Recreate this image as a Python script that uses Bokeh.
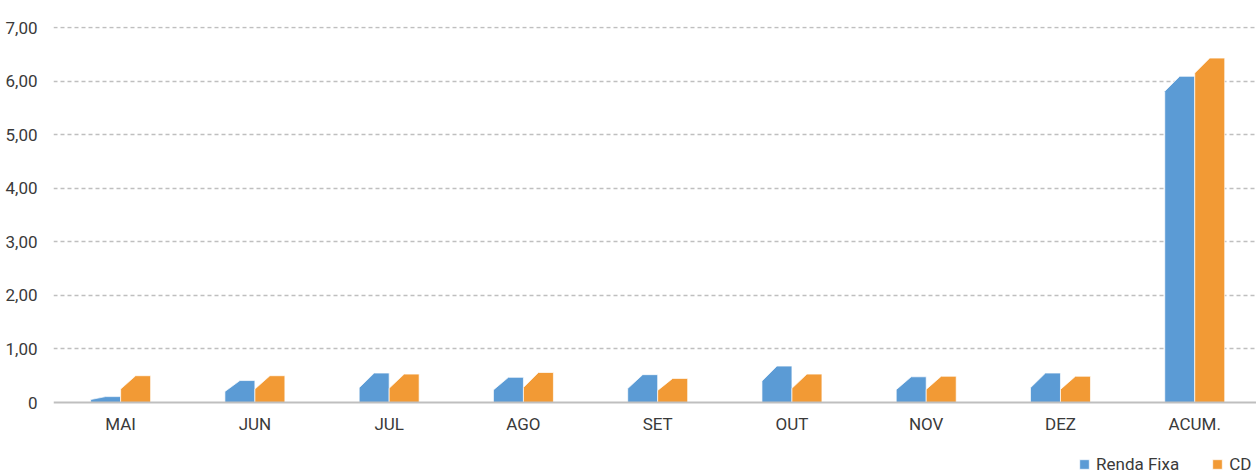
from bokeh.plotting import figure
from bokeh.models import Range1d, FixedTicker, Span, Legend, LegendItem, ColumnDataSource
from bokeh.embed import file_html
from bokeh.resources import INLINE

categories = ["MAI", "JUN", "JUL", "AGO", "SET", "OUT", "NOV", "DEZ", "ACUM."]
renda_fixa = [0.11, 0.41, 0.55, 0.47, 0.52, 0.68, 0.48, 0.55, 6.09]
cdi = [0.50, 0.50, 0.53, 0.56, 0.45, 0.53, 0.49, 0.49, 6.43]
y_ticks = [0, 1, 2, 3, 4, 5, 6, 7]
y_labels = ["0", "1,00", "2,00", "3,00", "4,00", "5,00", "6,00", "7,00"]

BLUE = "#5B9BD5"
ORANGE = "#F29A35"
FONT = "Roboto"
TXT = "#3a3a3a"

# frame spans page y 26..476; value 0 sits at y=402 (53.57 px per unit)
p = figure(width=1256, height=476, output_backend="svg", toolbar_location=None,
           x_range=Range1d(0, 8.96), y_range=Range1d(-1.3814, 7.02),
           min_border_left=53, min_border_right=0, min_border_top=26, min_border_bottom=0)
p.outline_line_color = None
p.background_fill_color = "white"

w = 0.2234
bev_h = 0.28


def shapes(vals, side):
    xs, ys = [], []
    for i, v in enumerate(vals):
        c = i + 0.5
        x0 = c - w if side < 0 else c
        x1 = x0 + w
        d = min(bev_h, v * 0.5)
        xs.append([x0, x0, x0 + w / 2, x1, x1])
        ys.append([0, v - d, v, v, 0])
    return ColumnDataSource(dict(xs=xs, ys=ys))


r1 = p.patches("xs", "ys", source=shapes(renda_fixa, -1), fill_color=BLUE,
               line_color="white", line_width=1, line_alpha=0.7)
r2 = p.patches("xs", "ys", source=shapes(cdi, 1), fill_color=ORANGE,
               line_color="white", line_width=1, line_alpha=0.7)

# grid
p.xgrid.grid_line_color = None
p.ygrid.ticker = FixedTicker(ticks=y_ticks[1:])
p.ygrid.grid_line_color = "#bfbfbf"
p.ygrid.grid_line_dash = "4 3"
p.ygrid.grid_line_width = 1.3
p.add_layout(Span(location=0, dimension="width", line_color="#bfbfbf", line_width=2))

# y axis
p.yaxis.ticker = FixedTicker(ticks=y_ticks)
p.yaxis.major_label_overrides = {t: l for t, l in zip(y_ticks, y_labels)}
p.yaxis.axis_line_color = None
p.yaxis.major_tick_line_color = None
p.yaxis.minor_tick_line_color = None
p.yaxis.major_label_standoff = 10
p.yaxis.major_label_text_font = FONT
p.yaxis.major_label_text_font_size = "17px"
p.yaxis.major_label_text_color = TXT

# x axis, pinned at value 0
x_ticks = [i + 0.5 for i in range(len(categories))]
p.xaxis.fixed_location = 0
p.xaxis.ticker = FixedTicker(ticks=x_ticks)
p.xaxis.major_label_overrides = {t: c for t, c in zip(x_ticks, categories)}
p.xaxis.axis_line_color = None
p.xaxis.major_tick_line_color = None
p.xaxis.minor_tick_line_color = None
p.xaxis.major_label_standoff = 5
p.xaxis.major_label_text_font = FONT
p.xaxis.major_label_text_font_size = "17px"
p.xaxis.major_label_text_color = TXT

legend = Legend(items=[LegendItem(label="Renda Fixa", renderers=[r1]),
                       LegendItem(label="CD", renderers=[r2])],
                orientation="horizontal", location=(1025, 2),
                glyph_width=12, glyph_height=12, label_standoff=6, spacing=32,
                label_text_font=FONT, label_text_font_size="17px", label_text_color=TXT,
                background_fill_alpha=0, border_line_color=None,
                padding=0, margin=0)
p.add_layout(legend, "center")

open("out.html", "w").write(file_html(p, INLINE))
